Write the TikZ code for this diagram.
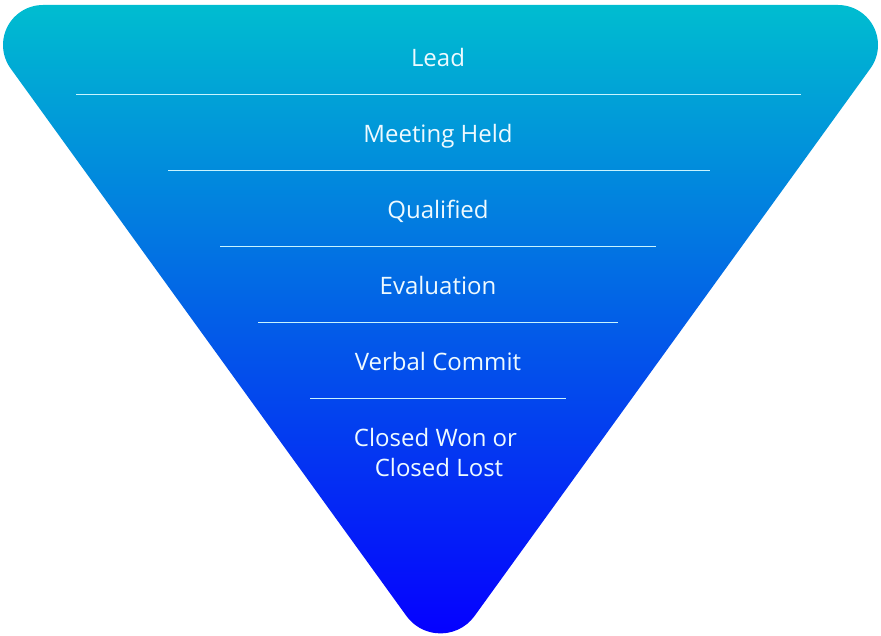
\documentclass[tikz,border=0pt]{standalone}
\usepackage{fontspec}
\setmainfont{Open Sans}
\usetikzlibrary{calc}
\definecolor{topc}{HTML}{00BDD0}
\definecolor{botc}{HTML}{0500FF}
\definecolor{linec}{HTML}{C8F4FF}
\definecolor{textc}{HTML}{EEFAFF}
\begin{document}
\begin{tikzpicture}[x=1pt,y=-1pt,
  lbl/.style={text=textc, font=\fontsize{24}{28}\selectfont, anchor=base, inner sep=0pt},
  sep/.style={draw=linec, line width=0.9pt}]
\useasboundingbox (0,0) rectangle (881,636);
\coordinate (ctl) at (43,45);
\coordinate (ctr) at (838,45);
\coordinate (cbot) at (440.5,591.4);
\shade[top color=topc, bottom color=botc, shading angle=0]
  (43,5) -- (838,5) arc[start angle=-90, end angle=35.9, radius=40]
  -- ($(cbot)+(35.9:42)$) arc[start angle=35.9, end angle=144.1, radius=42]
  -- ($(ctl)+(144.1:40)$) arc[start angle=144.1, end angle=270, radius=40] -- cycle;
\node[lbl] (lead) at (438,66.5) {Lead};
\node[lbl] (meet) at (438,142.5) {Meeting Held};
\node[lbl] (qual) at (438,218.5) {Qualified};
\node[lbl] (eval) at (438,294.5) {Evaluation};
\node[lbl] (verb) at (438,370.5) {Verbal Commit};
\node[lbl] (cwon) at (435.5,446.5) {Closed Won or};
\node[lbl] (clost) at (439,476.5) {Closed Lost};
\coordinate (l1a) at (76,94);  \coordinate (l1b) at (801,94);
\coordinate (l2a) at (168,170); \coordinate (l2b) at (710,170);
\coordinate (l3a) at (220,246); \coordinate (l3b) at (656,246);
\coordinate (l4a) at (258,322); \coordinate (l4b) at (618,322);
\coordinate (l5a) at (310,398); \coordinate (l5b) at (566,398);
\draw[sep] (l1a) -- (l1b);
\draw[sep] (l2a) -- (l2b);
\draw[sep] (l3a) -- (l3b);
\draw[sep] (l4a) -- (l4b);
\draw[sep] (l5a) -- (l5b);
\end{tikzpicture}
\end{document}
